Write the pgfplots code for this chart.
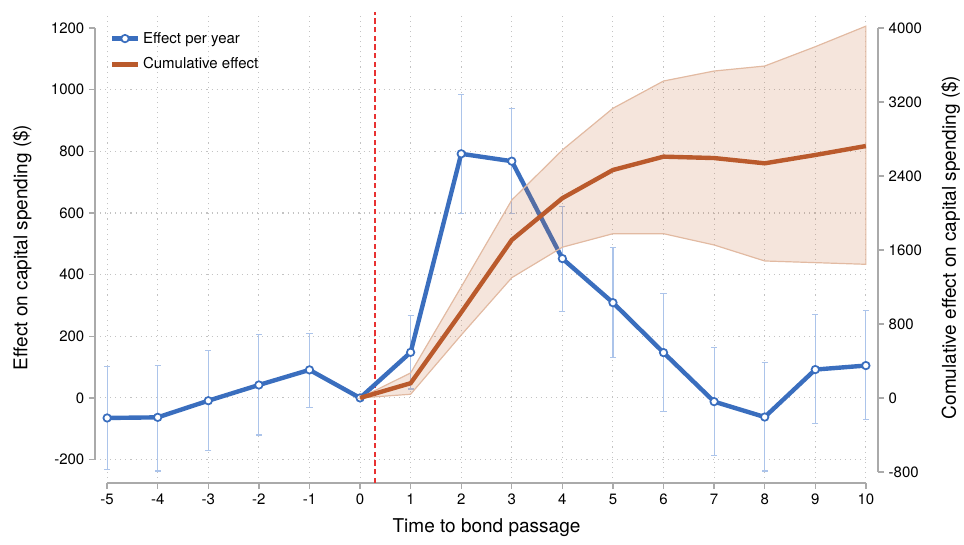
\documentclass[border=0pt]{standalone}
\usepackage{fontspec}
\setmainfont{TeX Gyre Heros}
\usepackage{pgfplots}
\usepackage{pgfplotstable}
\pgfplotsset{compat=1.18}
\definecolor{cblue}{RGB}{58,110,190}
\definecolor{corange}{RGB}{186,90,44}
\definecolor{cerr}{RGB}{172,196,234}
\definecolor{cband}{RGB}{200,110,60}
\definecolor{cedge}{RGB}{226,186,162}
\definecolor{cred}{RGB}{232,50,50}
\definecolor{axgray}{RGB}{170,170,170}
\definecolor{gridgray}{RGB}{195,195,195}

\pgfplotstableread{
x y ep em
-5 -65 166 168
-4 -63 168 174
-3 -9 162 162
-2 42 163 162
-1 91 119 122
1 148 119 119
2 792 193 194
3 768 172 170
4 452 170 172
5 309 179 179
6 147 193 191
7 -12 175 175
8 -62 176 175
9 92 178 176
10 105 179 176
}\errtab

\pgfplotstableread{
x y
-5 -65
-4 -63
-3 -9
-2 42
-1 91
0 0
1 148
2 792
3 768
4 452
5 309
6 147
7 -12
8 -62
9 92
10 105
}\efftab

\pgfplotstableread{
x y
0 0
1 159
2 925
3 1708
4 2160
5 2465
6 2609
7 2594
8 2537
9 2627
10 2724
}\cumtab

\begin{document}
\begin{tikzpicture}
\useasboundingbox (0pt,0pt) rectangle (723pt,408pt);
\pgfplotsset{
  common/.style={
    at={(71.25pt,45.75pt)}, anchor=south west,
    scale only axis, width=587.25pt, height=353.25pt,
    xmin=-5.24, xmax=10.24,
    clip=false,
    tick align=outside,
    major tick length=4.5pt,
    every tick/.style={draw=axgray, line width=1pt},
    axis line style={draw=none},
    /pgf/number format/assume math mode=true,
    /pgf/number format/1000 sep={},
    tick label style={font=\fontsize{11.25}{13}\selectfont},
    label style={font=\fontsize{14.25}{17}\selectfont},
  }
}
\begin{axis}[common,
  ymin=-276, ymax=1252,
  axis x line*=bottom, axis y line*=left,
  xtick={-5,-4,...,10},
  ytick={-200,0,...,1200},
  xlabel={Time to bond passage},
  ylabel={Effect on capital spending (\$)},
  xlabel style={at={(axis description cs:0.5,-0.0955)},anchor=center},
  ylabel style={at={(axis description cs:-0.0932,0.5)},anchor=center},
]
% grid
\pgfplotsinvokeforeach{-5,...,10}{
  \draw[gridgray, line width=0.8pt, dash pattern=on 0.8pt off 3pt] (axis cs:#1,-276) -- (axis cs:#1,1240);
}
\pgfplotsinvokeforeach{-200,0,200,400,600,800,1000}{
  \draw[gridgray, line width=0.8pt, dash pattern=on 0.8pt off 3pt] (axis cs:-5.14,#1) -- (axis cs:10.04,#1);
}
% axis lines
\draw[axgray, line width=1.1pt] (axis cs:-5.24,-200) -- (axis cs:-5.24,1200);
\draw[axgray, line width=1.1pt] (axis cs:-5,-276) -- (axis cs:10,-276);
% red dashed line
\draw[cred, line width=1.1pt, dash pattern=on 4pt off 2.5pt] (axis cs:0.3,-276) -- (axis cs:0.3,1252);
% error bars
\addplot[draw=none, mark=none,
  error bars/.cd, y dir=both, y explicit,
  error bar style={cerr, line width=0.9pt},
  error mark options={cerr, line width=0.9pt, mark size=2.3pt, rotate=90}]
  table[x=x, y=y, y error plus=ep, y error minus=em] {\errtab};
% effect per year
\addplot[cblue, line width=3.3pt, mark=*, mark size=2.8pt,
  mark options={fill=white, draw=cblue, line width=1.3pt}]
  table[x=x, y=y] {\efftab};
\end{axis}

\begin{axis}[common,
  ymin=-920, ymax=4173.3,
  axis y line*=right,
  axis x line*=bottom,
  xtick=\empty,
  ytick={-800,0,...,4000},
  ylabel={Comulative effect on capital spending (\$)},
  ylabel style={at={(axis description cs:1.0926,0.5)},anchor=center},
  legend style={at={(axis description cs:0.0192,0.965)}, anchor=north west,
    draw=none, fill=none, inner sep=0pt, row sep=4.5pt,
    font=\fontsize{11.25}{13}\selectfont,
    nodes={inner sep=0.25em}},
  legend cell align=left,
  legend image code/.code={\draw[mark repeat=2,mark phase=2,#1] plot coordinates {(0cm,0cm) (0.33cm,0cm) (0.66cm,0cm)};},
]
% band
\addplot[fill=cband, fill opacity=0.18, draw=cedge, line width=0.9pt, forget plot]
  coordinates {
  (0,0) (1,270) (2,1200) (3,2140) (4,2681) (5,3132) (6,3427) (7,3535) (8,3589) (9,3798) (10,4020)
  (10,1445) (9,1463) (8,1481) (7,1654) (6,1776) (5,1776) (4,1630) (3,1300) (2,680) (1,40) (0,0)
  } -- cycle;
\draw[axgray, line width=1.1pt] (axis cs:10.24,-800) -- (axis cs:10.24,4000);
\addlegendimage{cblue, line width=3.3pt, mark=*, mark size=2.8pt, mark options={fill=white, draw=cblue, line width=1.3pt}}
\addlegendentry{Effect per year}
\addplot[corange, line width=3.3pt] table[x=x, y=y] {\cumtab};
\addlegendentry{Cumulative effect}
\end{axis}
\end{tikzpicture}
\end{document}
